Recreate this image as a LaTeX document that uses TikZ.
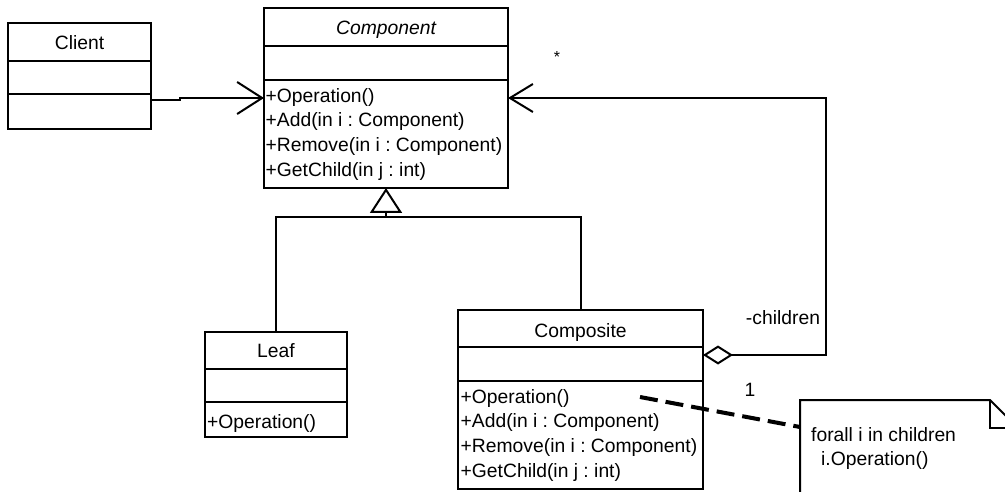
\documentclass[tikz,border=0pt]{standalone}
\usepackage{fontspec}
\setmainfont{Liberation Sans}
\frenchspacing
\usetikzlibrary{arrows.meta,positioning}
\tikzset{
  clase/.style={draw,line width=2pt,anchor=north west,inner sep=0pt,outer sep=0pt},
  titulo/.style={anchor=base,inner sep=0pt,font=\fontsize{19.3}{23}\selectfont},
  metodos/.style={align=left,anchor=north west,inner sep=0pt,font=\fontsize{19.3}{24.7}\selectfont},
  texto/.style={inner sep=0pt,font=\fontsize{19.3}{23}\selectfont},
  linea/.style={line width=2pt},
  flecha/.style={line width=2pt,-{Straight Barb[length=25pt,width=32pt,line width=2pt]}},
  hereda/.style={line width=2pt,-{Triangle[open,length=25pt,width=32pt,line width=2pt]}},
  agrega/.style={line width=2pt,{Diamond[open,length=30pt,width=19pt,line width=2pt]}-{Straight Barb[length=23pt,width=28pt,line width=2pt]}}
}
\begin{document}
\begin{tikzpicture}[x=1pt,y=-1pt]
\useasboundingbox (0,0) rectangle (1005,492);
\clip (0,0) rectangle (1005,492);
% clases
\node[clase,minimum width=143pt,minimum height=106pt] (client) at (8,23) {};
\node[clase,minimum width=244pt,minimum height=180pt] (component) at (264,8) {};
\node[clase,minimum width=142pt,minimum height=105pt] (leaf) at (205,332) {};
\node[clase,minimum width=245pt,minimum height=179pt] (composite) at (458,310) {};
\foreach \n/\a/\b in {client/38/71, component/38/72, leaf/37/70, composite/37/71}{
  \draw[linea] ([yshift=-\a pt]\n.north west) -- ([yshift=-\a pt]\n.north east);
  \draw[linea] ([yshift=-\b pt]\n.north west) -- ([yshift=-\b pt]\n.north east);
}
\node[titulo] (tclient) at ([yshift=-27pt]client.north) {Client};
\node[titulo] (tcomponent) at ([yshift=-27pt]component.north) {\itshape Component};
\node[titulo] (tleaf) at ([yshift=-25pt]leaf.north) {Leaf};
\node[titulo] (tcomposite) at ([yshift=-27pt]composite.north) {Composite};
\node[metodos] (mcomponent) at ([xshift=1.5pt,yshift=-80pt]component.north west)
  {+Operation()\\+Add(in i : Component)\\+Remove(in i : Component)\\+GetChild(in j : int)};
\node[metodos] (mcomposite) at ([xshift=2.5pt,yshift=-79pt]composite.north west)
  {+Operation()\\+Add(in i : Component)\\+Remove(in i : Component)\\+GetChild(in j : int)};
\node[metodos] (mleaf) at ([xshift=2pt,yshift=-82pt]leaf.north west) {+Operation()};
% asociaciones
\draw[flecha] ([yshift=-77pt]client.north east) -- ++(29,0) |- ([yshift=-90pt]component.north west);
\coordinate (union) at (386,217);
\draw[linea] (leaf.north) |- (union) -| (composite.north);
\draw[hereda] (union) -- (component.south);
\coordinate (esquina) at (826,98);
\draw[agrega] ([yshift=-45pt]composite.north east) -| (esquina) -- ([yshift=-90pt]component.north east);
\node[texto] (lmult) at (557,57) {\fontsize{16}{16}\selectfont *};
\node[texto] (lhijos) at (783,318) {-children};
\node[texto] (luno) at (750,390) {1};
% nota
\draw[linea] (800,400) -- (990,400) -- (1018,428) -- (1018,520) -- (800,520) -- cycle;
\draw[linea] (990,400) |- (1018,428);
\node[texto,anchor=west] (tnota1) at (811,435) {forall i in children};
\node[texto,anchor=west] (tnota2) at (821,461) {i.Operation()};
\coordinate (desde) at (640,397);
\coordinate (hasta) at (800,427);
\draw[line width=4pt,dash pattern=on 18pt off 8pt] (desde) -- (hasta);
\end{tikzpicture}
\end{document}
